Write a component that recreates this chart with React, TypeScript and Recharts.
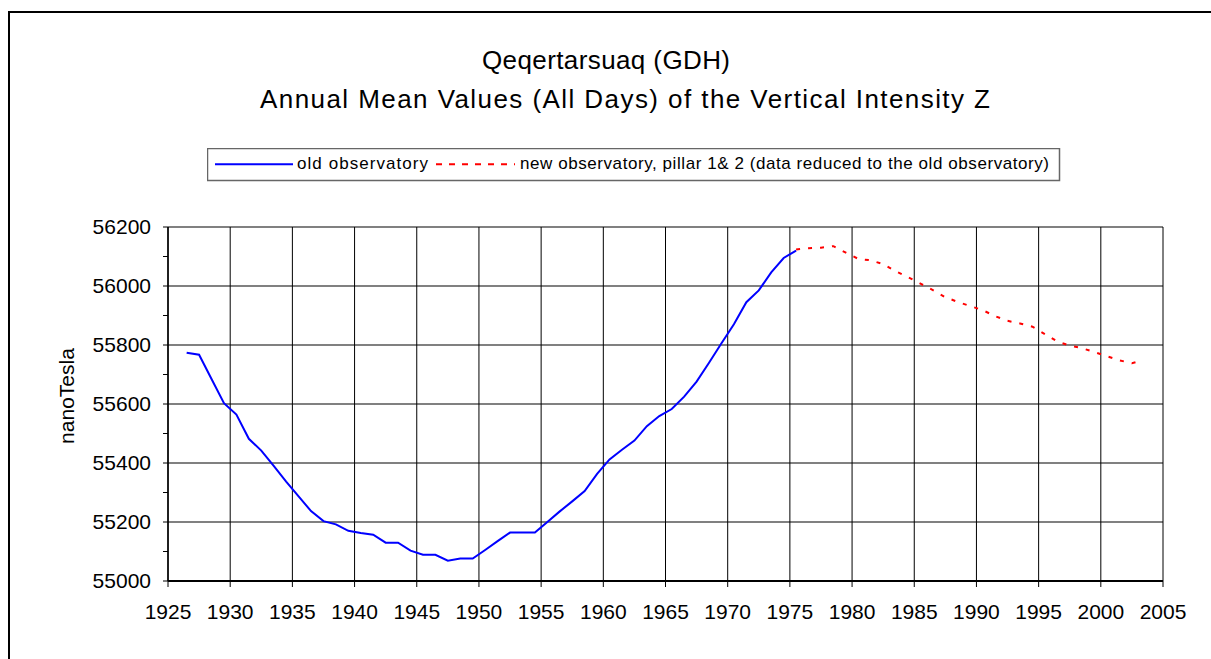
import React from 'react';
import { LineChart, Line, XAxis, YAxis, CartesianGrid, Legend } from 'recharts';

const oldYears = [
  1926.5, 1927.5, 1928.5, 1929.5, 1930.5, 1931.5, 1932.5, 1933.5, 1934.5, 1935.5,
  1936.5, 1937.5, 1938.5, 1939.5, 1940.5, 1941.5, 1942.5, 1943.5, 1944.5, 1945.5,
  1946.5, 1947.5, 1948.5, 1949.5, 1950.5, 1951.5, 1952.5, 1953.5, 1954.5, 1955.5,
  1956.5, 1957.5, 1958.5, 1959.5, 1960.5, 1961.5, 1962.5, 1963.5, 1964.5, 1965.5,
  1966.5, 1967.5, 1968.5, 1969.5, 1970.5, 1971.5, 1972.5, 1973.5, 1974.5, 1975.5,
];
const oldValues = [
  55774, 55767, 55685, 55603, 55564, 55482, 55442, 55390, 55337, 55287,
  55237, 55203, 55192, 55170, 55163, 55157, 55130, 55130, 55103, 55089,
  55089, 55069, 55076, 55076, 55105, 55135, 55164, 55164, 55164, 55200,
  55236, 55270, 55305, 55363, 55412, 55445, 55476, 55525, 55559, 55583,
  55625, 55676, 55740, 55806, 55870, 55945, 55985, 56046, 56095, 56120,
];
const newYears = [
  1975.5, 1976.5, 1977.5, 1978.5, 1979.5, 1980.5, 1981.5, 1982.5, 1983.5, 1984.5,
  1985.5, 1986.5, 1987.5, 1988.5, 1989.5, 1990.5, 1991.5, 1992.5, 1993.5, 1994.5,
  1995.5, 1996.5, 1997.5, 1998.5, 1999.5, 2000.5, 2001.5, 2002.5, 2003.0,
];
const newValues = [
  56124, 56128, 56130, 56135, 56113, 56092, 56087, 56074, 56050, 56030,
  56008, 55986, 55962, 55946, 55932, 55918, 55898, 55882, 55873, 55862,
  55837, 55812, 55798, 55789, 55776, 55762, 55748, 55738, 55744,
];
const xTicks = [1925, 1930, 1935, 1940, 1945, 1950, 1955, 1960, 1965, 1970, 1975, 1980, 1985, 1990, 1995, 2000, 2005];
const yTicks = [55000, 55100, 55200, 55300, 55400, 55500, 55600, 55700, 55800, 55900, 56000, 56100, 56200];
const yLabelTicks = [55000, 55200, 55400, 55600, 55800, 56000, 56200];

const titleLine1 = 'Qeqertarsuaq (GDH)';
const titleLine2 = 'Annual Mean Values (All Days) of the Vertical Intensity Z';
const yAxisTitle = 'nanoTesla';
const oldName = 'old observatory';
const newName = 'new observatory, pillar 1& 2 (data reduced to the old observatory)';

const FONT = "'Liberation Sans', Arial, Helvetica, sans-serif";

const oldData = oldYears.map((x, i) => ({ x, z: oldValues[i] }));
const newData = newYears.map((x, i) => ({ x, z: newValues[i] }));

const LegendBox = () => (
  <svg width={854} height={34} style={{ display: 'block', fontFamily: FONT }}>
    <rect x={0.5} y={0.5} width={852} height={32} fill="#fff" stroke="#666" strokeWidth={1.5} />
    <line x1={8} y1={16.3} x2={86} y2={16.3} stroke="#0000FF" strokeWidth={2} />
    <text x={90} y={21} fontSize={17} fill="#000" textLength={131} lengthAdjust="spacing">{oldName}</text>
    <line x1={229} y1={16.3} x2={308} y2={16.3} stroke="#FF0000" strokeWidth={2} strokeDasharray="6 7" />
    <text x={313} y={21} fontSize={17} fill="#000" textLength={529} lengthAdjust="spacing">{newName}</text>
  </svg>
);

export default function App() {
  return (
    <div style={{ position: 'absolute', left: 0, top: 0, width: 1211, height: 659, overflow: 'hidden', background: '#fff' }}>
      <div style={{ position: 'absolute', left: 8, top: 11, width: 1400, height: 900, border: '2px solid #000', boxSizing: 'border-box' }} />
      <div style={{ position: 'absolute', left: 0, top: 0 }}>
        <LineChart
          width={1211}
          height={659}
          margin={{ top: 227, right: 48, left: 88, bottom: 38 }}
          style={{ fontFamily: FONT }}
        >
          <CartesianGrid horizontal={true} vertical={false} horizontalValues={yLabelTicks} stroke="#808080" strokeWidth={2} />
          <CartesianGrid horizontal={false} vertical={true} verticalValues={xTicks} stroke="#000" strokeWidth={1} />
          <XAxis
            type="number"
            dataKey="x"
            domain={[1925, 2005]}
            ticks={xTicks}
            interval={0}
            allowDataOverflow
            height={40}
            tickSize={6}
            tickMargin={17}
            axisLine={{ stroke: '#000', strokeWidth: 2 }}
            tickLine={{ stroke: '#000', strokeWidth: 1 }}
            tick={{ fill: '#000', fontSize: 21, fontFamily: FONT }}
          />
          <YAxis
            type="number"
            domain={[55000, 56200]}
            ticks={yTicks}
            interval={0}
            width={80}
            tickSize={5}
            tickMargin={12}
            tickFormatter={(v: number) => (yLabelTicks.includes(v) ? String(v) : '')}
            axisLine={{ stroke: '#000', strokeWidth: 1.5 }}
            tickLine={{ stroke: '#000', strokeWidth: 1 }}
            tick={{ fill: '#000', fontSize: 21, fontFamily: FONT }}
          />
          <Legend
            verticalAlign="middle"
            align="center"
            layout="horizontal"
            content={() => <LegendBox />}
            wrapperStyle={{ position: 'absolute', left: 207, top: 148, width: 854, height: 34 }}
          />
          <Line
            data={oldData}
            dataKey="z"
            name={oldName}
            type="linear"
            stroke="#0000FF"
            strokeWidth={2}
            dot={false}
            activeDot={false}
            isAnimationActive={false}
          />
          <Line
            data={newData}
            dataKey="z"
            name={newName}
            type="linear"
            stroke="#FF0000"
            strokeWidth={2}
            strokeDasharray="4 8"
            dot={false}
            activeDot={false}
            isAnimationActive={false}
          />
        </LineChart>
      </div>
      <svg width={1211} height={659} style={{ position: 'absolute', left: 0, top: 0, pointerEvents: 'none', fontFamily: FONT }}>
        <text x={606} y={69} fontSize={26} textAnchor="middle" fill="#000" textLength={248} lengthAdjust="spacing">{titleLine1}</text>
        <text x={625} y={108} fontSize={26} textAnchor="middle" fill="#000" textLength={730} lengthAdjust="spacing">{titleLine2}</text>
        <text x={73.5} y={396} fontSize={21} textAnchor="middle" fill="#000" transform="rotate(-90, 73.5, 396)">{yAxisTitle}</text>
      </svg>
    </div>
  );
}
